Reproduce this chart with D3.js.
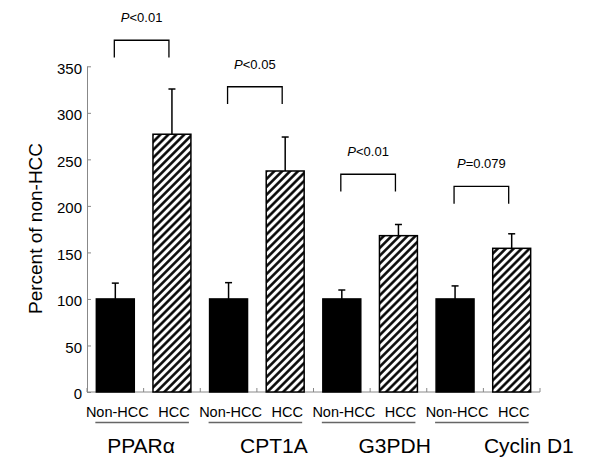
<!DOCTYPE html>
<html>
<head>
<meta charset="utf-8">
<script src="https://cdn.jsdelivr.net/npm/d3@7"></script>
<style>
  html, body { margin: 0; padding: 0; background: #fff; }
  svg { display: block; font-family: "Liberation Sans", Arial, sans-serif; }
</style>
</head>
<body>
<svg id="chart" width="600" height="470"></svg>
<script>
// ---- data ----
const genes = ["PPARα", "CPT1A", "G3PDH", "Cyclin D1"];
const groups = ["Non-HCC", "HCC"];
const nonHccMean = [100, 100, 100, 100];
const nonHccErr  = [17, 17.5, 9.6, 14];
const hccMean    = [277, 237.5, 168, 154.4];
const hccErr     = [48.6, 36.5, 12, 15.6];
const pTextRest  = ["<0.01", "<0.05", "<0.01", "=0.079"];
const bracketTop = [378, 328, 234, 221];
const yTicks     = [0, 50, 100, 150, 200, 250, 300, 350];
const yTitle     = "Percent of non-HCC";

// ---- layout ----
const svg = d3.select("#chart");
const x0 = 87, x1 = 540, yBase = 392, yTopPx = 66.3;
const groupShift = [-2.6, 17, 24.6, 45.5]; // gene label offsets from group centre

const xg = d3.scaleBand().domain(genes).range([x0, x1]).padding(0);
const xs = d3.scaleBand().domain(groups).range([0, xg.bandwidth()])
  .paddingInner(0.33).paddingOuter(0.165);
const y = d3.scaleLinear().domain([0, 350]).range([yBase, yTopPx]);

const defs = svg.append("defs");
const pat = defs.append("pattern")
  .attr("id", "hatch").attr("patternUnits", "userSpaceOnUse")
  .attr("width", 5.6).attr("height", 5.6)
  .attr("patternTransform", "rotate(45)");
pat.append("rect").attr("width", 5.6).attr("height", 5.6).attr("fill", "#fff");
pat.append("line").attr("x1", 1.4).attr("y1", 0).attr("x2", 1.4).attr("y2", 5.6)
  .attr("stroke", "#000").attr("stroke-width", 2.5);

// rows
const rows = [];
genes.forEach((g, i) => {
  rows.push({gene: g, grp: "Non-HCC", v: nonHccMean[i], e: nonHccErr[i], i});
  rows.push({gene: g, grp: "HCC", v: hccMean[i], e: hccErr[i], i});
});
const cx = d => xg(d.gene) + xs(d.grp) + xs.bandwidth() / 2;

// y axis
const yAxis = d3.axisLeft(y).tickValues(yTicks).tickSizeInner(-4).tickSizeOuter(0).tickPadding(5);
const ya = svg.append("g").attr("transform", `translate(${x0},0)`).call(yAxis);
ya.select(".domain").attr("stroke", "#888");
ya.selectAll(".tick line").attr("stroke", "#888");
ya.selectAll(".tick text").attr("font-size", 15).attr("fill", "#000").attr("dy", "0.45em")
  .attr("font-family", "Liberation Sans, Arial, sans-serif");

// x axis line and ticks at each bar slot boundary
const step = xg.bandwidth() / 2;
const xTicks = d3.range(genes.length * 2 + 1).map(k => x0 + k * step);
svg.append("line").attr("x1", x0).attr("x2", x1).attr("y1", yBase).attr("y2", yBase)
  .attr("stroke", "#888").attr("stroke-width", 1);
svg.selectAll(".xtick").data(xTicks).join("line")
  .attr("x1", d => d).attr("x2", d => d).attr("y1", yBase).attr("y2", yBase - 4)
  .attr("stroke", "#888").attr("stroke-width", 1);

// error bars (upper only)
svg.selectAll(".err").data(rows).join("line")
  .attr("x1", cx).attr("x2", cx)
  .attr("y1", d => y(d.v)).attr("y2", d => y(d.v + d.e))
  .attr("stroke", "#000").attr("stroke-width", 1.5);
svg.selectAll(".cap").data(rows).join("line")
  .attr("x1", d => cx(d) - 3.5).attr("x2", d => cx(d) + 3.5)
  .attr("y1", d => y(d.v + d.e)).attr("y2", d => y(d.v + d.e))
  .attr("stroke", "#000").attr("stroke-width", 1.5);

// bars
svg.selectAll(".bar").data(rows).join("rect")
  .attr("x", d => xg(d.gene) + xs(d.grp))
  .attr("width", xs.bandwidth())
  .attr("y", d => y(d.v))
  .attr("height", d => y(0) - y(d.v))
  .attr("fill", d => d.grp === "HCC" ? "url(#hatch)" : "#000")
  .attr("stroke", "#000").attr("stroke-width", 1.5);

// group labels
svg.selectAll(".sub").data(rows).join("text")
  .attr("x", d => cx(d) + 2).attr("y", 417)
  .attr("text-anchor", "middle").attr("font-size", 14.5).attr("fill", "#000")
  .text(d => d.grp);

// underlines
genes.forEach((g, i) => {
  const left = xg(g) + xs("Non-HCC") - 1;
  const right = xg(g) + xs("HCC") + xs.bandwidth() - 2;
  svg.append("line").attr("x1", left).attr("x2", right).attr("y1", 422.5).attr("y2", 422.5)
    .attr("stroke", "#666").attr("stroke-width", 1.3);
  svg.append("text")
    .attr("x", xg(g) + xg.bandwidth() / 2 + groupShift[i]).attr("y", 453)
    .attr("text-anchor", "middle").attr("font-size", 21).attr("fill", "#000")
    .text(g);
});

// significance brackets
genes.forEach((g, i) => {
  const a = xg(g) + xs("Non-HCC") + xs.bandwidth() / 2 - 1;
  const b = xg(g) + xs("HCC") + xs.bandwidth() / 2 - 3;
  const yt = y(bracketTop[i]);
  const yb = y(bracketTop[i] - 18.6);
  svg.append("path")
    .attr("d", `M${a},${yb}V${yt}H${b}V${yb}`)
    .attr("fill", "none").attr("stroke", "#000").attr("stroke-width", 1.3);
  const t = svg.append("text")
    .attr("x", (a + b) / 2).attr("y", yt - 18)
    .attr("text-anchor", "middle").attr("font-size", 13).attr("fill", "#000");
  t.append("tspan").attr("font-style", "italic").text("P");
  t.append("tspan").text(pTextRest[i]);
});

// y title
svg.append("text")
  .attr("transform", `translate(42,228.5) rotate(-90)`)
  .attr("text-anchor", "middle").attr("font-size", 19).attr("fill", "#000")
  .text(yTitle);
</script>
</body>
</html>
